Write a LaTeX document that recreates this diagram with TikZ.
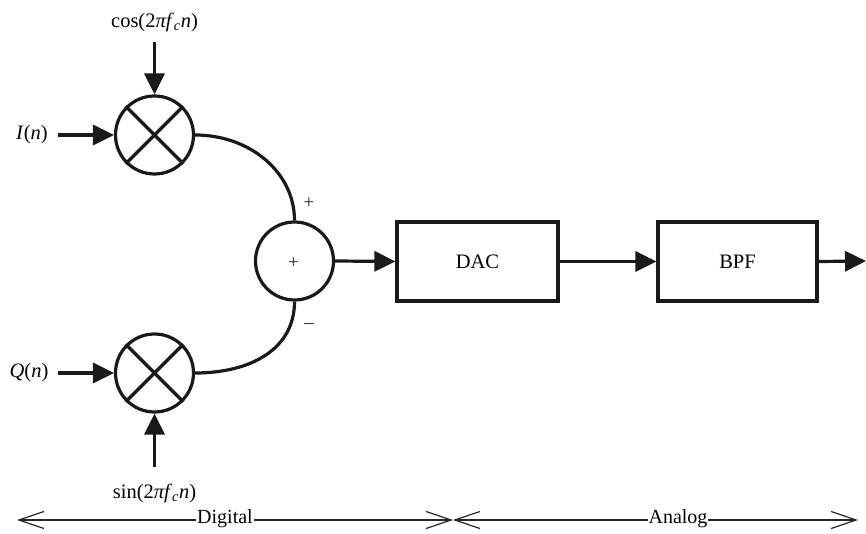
\documentclass[tikz,border=0pt]{standalone}
\usepackage{fontspec}
\setmainfont{Liberation Serif}
\usetikzlibrary{arrows.meta}
\begin{document}
\begin{tikzpicture}[x=1pt,y=-1pt,
  font=\fontsize{20.5}{24}\selectfont,
  thick line/.style={line width=3.2pt, draw=black!90},
  sig/.style={thick line, -{Triangle[length=21pt,width=20pt]}},
  mixer/.style={circle, thick line, minimum size=78pt, inner sep=0pt},
  block/.style={rectangle, thick line, inner sep=0pt},
  lbl/.style={inner sep=1pt},
  sign/.style={font=\fontsize{19}{22}\selectfont, text=black!85},
  span/.style={line width=1.2pt, draw=black!85, {Straight Barb[length=25pt,width=17pt]}-{Straight Barb[length=25pt,width=17pt]}},
  spanlbl/.style={fill=white, inner sep=1pt, font=\fontsize{20}{24}\selectfont}
]
\useasboundingbox (0,0) rectangle (866,534);

% mixers and adder
\node[mixer] (m1) at (154.5,135) {};
\node[mixer] (m2) at (154.5,373) {};
\node[mixer] (add) at (294.5,261) {};
\node[sign] (addp) at (293.5,263) {+};
\foreach \m in {m1,m2}{
  \draw[thick line] (\m.45) -- (\m.225);
  \draw[thick line] (\m.135) -- (\m.315);
}

% blocks
\node[block, minimum width=161pt, minimum height=79pt] (dac) at (477.5,261.5) {DAC};
\node[block, minimum width=159pt, minimum height=79pt] (bpf) at (737.5,261.5) {BPF};

% input labels
\node[lbl] (cosl) at (154.5,22) {cos(2\textit{πf}\textsubscript{\textit{c}}\textit{n})};
\node[lbl] (sinl) at (154.5,493) {sin(2\textit{πf}\textsubscript{\textit{c}}\textit{n})};
\node[lbl] (il) at (32,135) {\textit{I}(\textit{n})};
\node[lbl] (ql) at (29,373) {\textit{Q}(\textit{n})};

\coordinate (cosa) at (154.5,42);
\coordinate (sina) at (154.5,467);
\coordinate (ia) at (58,135);
\coordinate (qa) at (58,373);
\coordinate (out) at (866,261);

\draw[sig] (cosa) -- (m1.north);
\draw[sig] (sina) -- (m2.south);
\draw[sig] (ia) -- (m1.west);
\draw[sig] (qa) -- (m2.west);

% curves into adder
\draw[thick line] (m1.east) .. controls +(55,0) and +(0,-48) .. (add.north);
\draw[thick line] (m2.east) .. controls +(55,0) and +(0,48) .. (add.south);
\node[sign] (plusl) at (309,203) {+};
\node[sign] (minusl) at (309,326) {\textendash};

% chain
\draw[sig] (add.east) -- (dac.west);
\draw[sig] (dac.east) -- (bpf.west);
\draw[sig] (bpf.east) -- (out);

% digital / analog span
\coordinate (dl) at (17,520);
\coordinate (dm) at (453,520);
\coordinate (dr) at (858,520);
\draw[span] (dl) -- (dm);
\draw[span] (dm) -- (dr);
\node[spanlbl] (dig) at (225,519) {Digital};
\node[spanlbl] (ana) at (678,519) {Analog};
\end{tikzpicture}
\end{document}
